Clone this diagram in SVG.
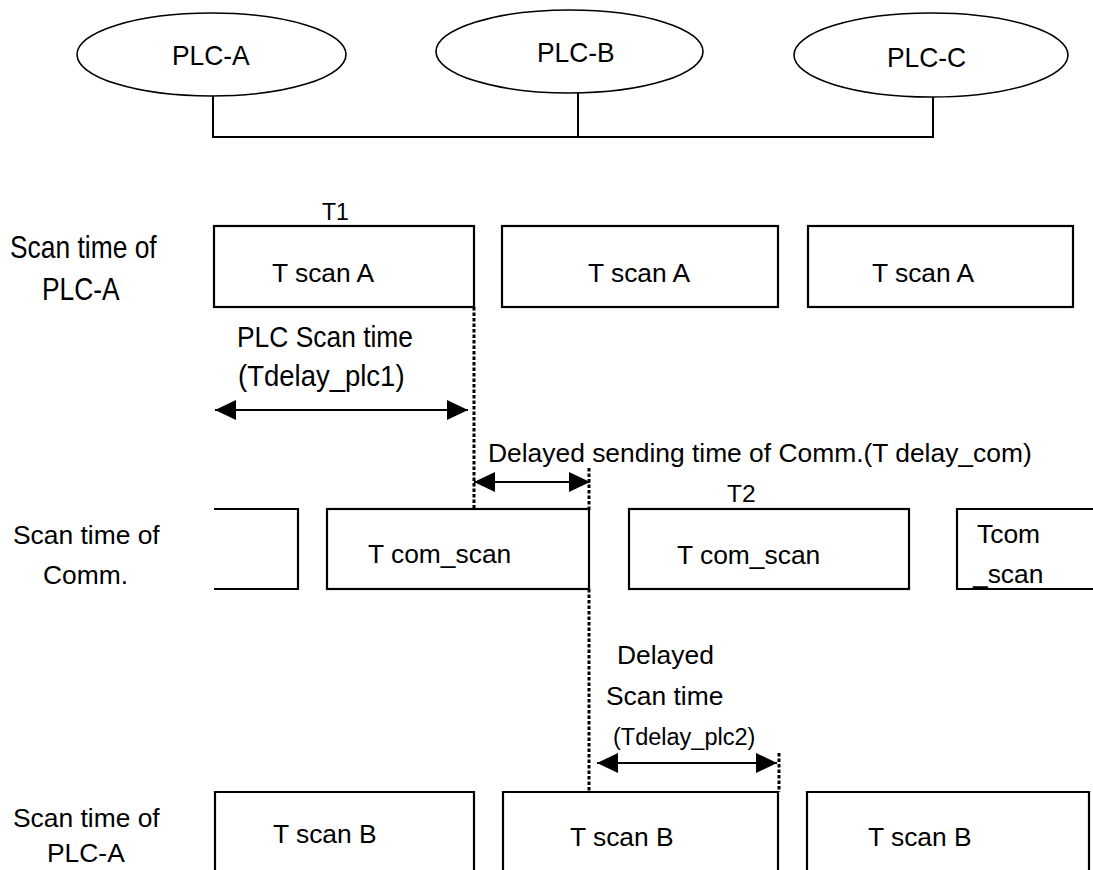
<svg xmlns="http://www.w3.org/2000/svg" width="1093" height="870" viewBox="0 0 1093 870">
<style>
text{font-family:"Liberation Sans",Arial,sans-serif;fill:#000;font-size:26.4px}
.box{fill:none;stroke:#000;stroke-width:2.2}
.ell{fill:#fff;stroke:#000;stroke-width:1.6}
.bus{fill:none;stroke:#000;stroke-width:2}
.dot{fill:none;stroke:#000;stroke-width:3;stroke-dasharray:3.5 2}
.arr{fill:none;stroke:#000;stroke-width:2;marker-start:url(#ah);marker-end:url(#ah)}
</style>
<defs>
<marker id="ah" markerUnits="userSpaceOnUse" markerWidth="22" markerHeight="20" refX="21" refY="10" orient="auto-start-reverse" viewBox="0 0 22 20">
<path d="M0,0 L21,10 L0,20 z" fill="#000"/>
</marker>
</defs>
<rect width="1093" height="870" fill="#fff"/>

<g id="connectors">
<path class="bus" d="M213,96 V137 H933 V97 M578,93 V137"/>
<path class="dot" d="M474,307 V508"/>
<path class="dot" d="M589,468 V510 M589,589 V792"/>
<path class="dot" d="M779,753 V792"/>
<path class="arr" d="M215,410 H468"/>
<path class="arr" d="M474,482 H590"/>
<path class="arr" d="M597,763 H777"/>
</g>

<g id="plc-a">
<ellipse class="ell" cx="211.5" cy="54.5" rx="134.5" ry="41.5"/>
<text transform="translate(172,65) scale(1,1.07)">PLC-A</text>
</g>
<g id="plc-b">
<ellipse class="ell" cx="569.5" cy="51.5" rx="133.5" ry="41.5"/>
<text transform="translate(537,62) scale(1,1.05)">PLC-B</text>
</g>
<g id="plc-c">
<ellipse class="ell" cx="931" cy="55" rx="137" ry="42"/>
<text transform="translate(887,67) scale(1,1.05)">PLC-C</text>
</g>

<g id="label-row1">
<text transform="translate(10,258) scale(1,1.22)">Scan time of</text>
<text transform="translate(42,300) scale(1,1.18)">PLC-A</text>
</g>
<g id="label-row2">
<text x="13" y="544">Scan time of</text>
<text x="43" y="584">Comm.</text>
</g>
<g id="label-row3">
<text x="13" y="827">Scan time of</text>
<text x="47" y="862">PLC-A</text>
</g>

<g id="t1"><text x="322" y="220" style="font-size:23px">T1</text></g>
<g id="scanA1"><rect class="box" x="214" y="226" width="260" height="81"/><text x="272" y="282">T scan A</text></g>
<g id="scanA2"><rect class="box" x="502" y="226" width="276" height="81"/><text x="588" y="282">T scan A</text></g>
<g id="scanA3"><rect class="box" x="808" y="226" width="265" height="81"/><text x="872" y="282">T scan A</text></g>

<g id="plc-scan-label">
<text transform="translate(237,347) scale(1,1.12)">PLC Scan time</text>
<text transform="translate(238,386) scale(1,1.08)" style="font-size:27.5px">(Tdelay_plc1)</text>
</g>

<g id="delay-com-label"><text x="488" y="462">Delayed sending time of Comm.(T delay_com)</text></g>
<g id="t2"><text x="727" y="502" style="font-size:24.5px">T2</text></g>

<g id="com0"><path class="box" d="M214,509 H298 V589 H214"/></g>
<g id="com1"><rect class="box" x="327" y="509" width="262" height="80"/><text x="368" y="563">T com_scan</text></g>
<g id="com2"><rect class="box" x="629" y="509" width="280" height="80"/><text x="677" y="564">T com_scan</text></g>
<g id="com3"><path class="box" d="M1095,509 H957 V589 H1095"/><text x="977" y="543">Tcom</text><text x="973" y="583">_scan</text></g>

<g id="delay-plc2-label">
<text x="617" y="664">Delayed</text>
<text x="606" y="705">Scan time</text>
<text x="613" y="745" style="font-size:23.5px">(Tdelay_plc2)</text>
</g>

<g id="scanB1"><path class="box" d="M215,872 V792 H474 V872"/><text x="273" y="843">T scan B</text></g>
<g id="scanB2"><path class="box" d="M503,872 V792 H778 V872"/><text x="570" y="846">T scan B</text></g>
<g id="scanB3"><path class="box" d="M807,872 V792 H1089 V872"/><text x="868" y="846">T scan B</text></g>
</svg>
